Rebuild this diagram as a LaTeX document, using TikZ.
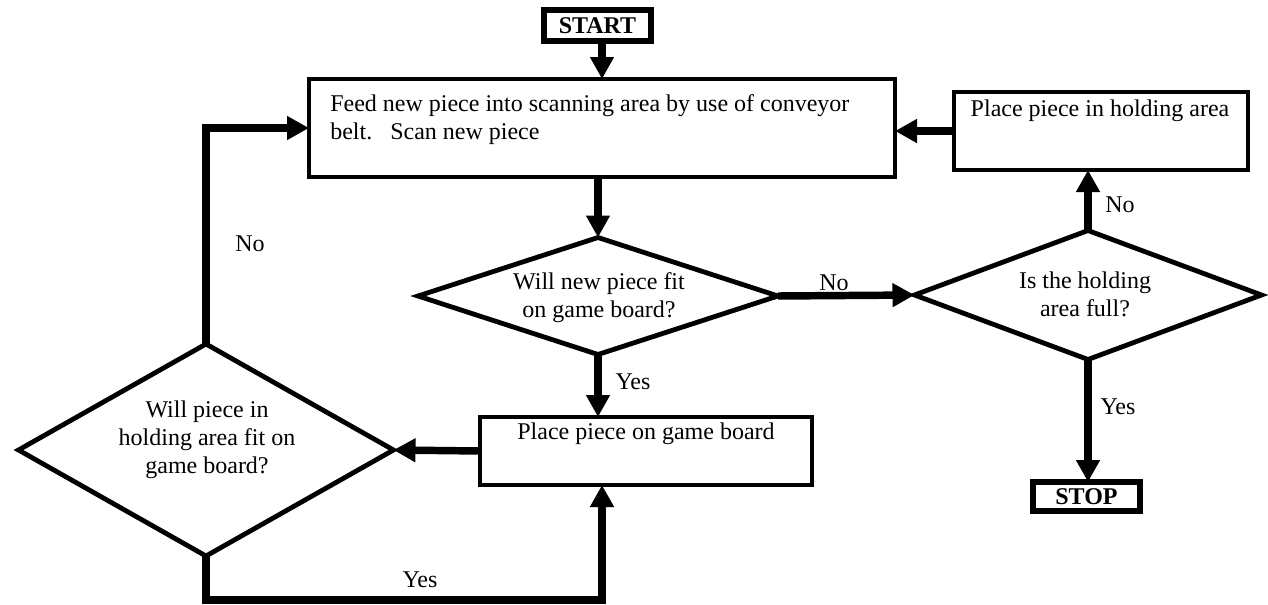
\documentclass[tikz,border=0pt]{standalone}
\usepackage{fontspec}
\setmainfont{Liberation Serif}
\usetikzlibrary{shapes.geometric,arrows.meta,fit,calc}
\begin{document}
\begin{tikzpicture}[x=0.75pt,y=-0.75pt,
  font=\fontsize{18}{21}\selectfont,
  box/.style={draw, line width=3.7pt, inner sep=0pt, outer sep=0pt, rectangle},
  termbox/.style={box, line width=4.6pt},
  decision/.style={draw, diamond, line width=3.6pt, inner sep=0pt, outer sep=0pt, line join=miter},
  txt/.style={inner sep=0pt, align=center},
  lbl/.style={inner sep=0pt},
  conn/.style={line width=5.6pt, line join=miter, -{Triangle[length=16.5pt,width=17pt]}}]
\useasboundingbox (0,0) rectangle (1268,604);

% boxes
\node[termbox, fit={(544,10)(651,41)}] (start) {};
\node[txt, font=\fontsize{18}{21}\selectfont\bfseries] (starttxt) at (597.5,26) {START};

\node[box, fit={(309,79)(895,177)}] (main) {};
\node[txt, align=left, anchor=west] (maintxt) at (330,120)
  {Feed new piece into scanning area by use of conveyor\\belt.\hspace{0.75em}Scan new piece};

\node[box, fit={(954,92)(1248,170)}] (hold) {};
\node[txt] (holdtxt) at (1100,111) {Place piece in holding area};

\node[box, fit={(480,417)(812,485)}] (place) {};
\node[txt] (placetxt) at (646,434) {Place piece on game board};

\node[termbox, fit={(1033,482)(1140,511)}] (stop) {};
\node[txt, font=\fontsize{18}{21}\selectfont\bfseries] (stoptxt) at (1086.5,497) {STOP};

% decisions
\node[decision, minimum width={360*0.75pt}, minimum height={117*0.75pt}] (d1) at (598,296) {};
\node[txt] (d1txt) at (599,298) {Will new piece fit\\on game board?};

\node[decision, minimum width={347*0.75pt}, minimum height={129*0.75pt}] (d2) at (1088,295) {};
\node[txt] (d2txt) at (1085,294) {Is the holding\\area full?};

\node[decision, minimum width={375*0.75pt}, minimum height={212*0.75pt}] (d3) at (206,450) {};
\node[txt] (d3txt) at (207,440) {Will piece in\\holding area fit on\\game board?};

% connectors
\coordinate (pin) at (602,600);
\draw[conn] (start.south -| main.north) -- (main.north);
\draw[conn] (d1.north |- main.south) -- (d1.north);
\draw[conn] (d1.east) -- (d2.west);
\draw[conn] (d2.north) -- (d2.north |- hold.south);
\draw[conn] (hold.west) -- (hold.west -| main.east);
\draw[conn] (d2.south) -- (d2.south |- stop.north);
\draw[conn] (d1.south) -- (d1.south |- place.north);
\draw[conn] (place.west) -- (d3.east);
\draw[conn] (d3.north) |- (main.west);
\draw[conn] (d3.south) |- (pin) -- (pin |- place.south);

% labels
\node[lbl] (no1) at (834,283) {No};
\node[lbl] (no2) at (1120,205) {No};
\node[lbl] (no3) at (250,244) {No};
\node[lbl] (yes1) at (633,382) {Yes};
\node[lbl] (yes2) at (1118,407) {Yes};
\node[lbl] (yes3) at (420,580) {Yes};
\end{tikzpicture}
\end{document}
